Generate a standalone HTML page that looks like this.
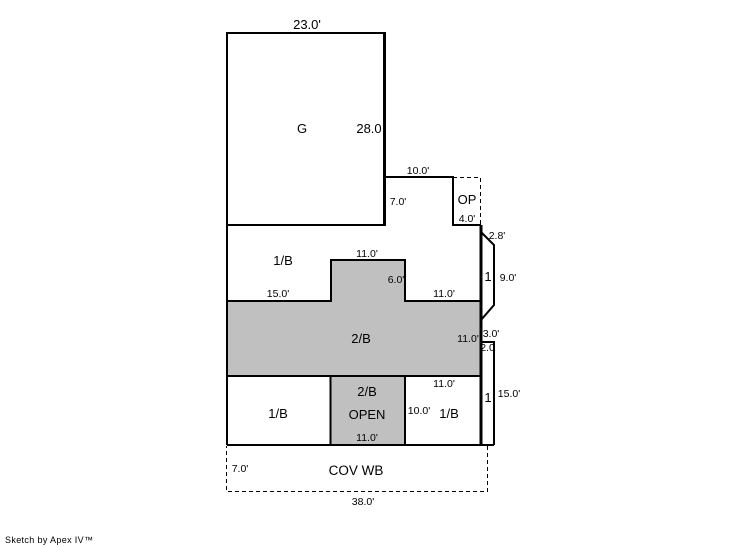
<!DOCTYPE html>
<html><head><meta charset="utf-8"><style>
html,body{margin:0;padding:0;background:#fff}
svg{display:block}
text{font-family:"Liberation Sans",sans-serif;fill:#000}
.b{font-size:13px}
.s{font-size:10.5px}
</style></head><body>
<svg width="746" height="547" viewBox="0 0 746 547" xmlns="http://www.w3.org/2000/svg">
<path d="M228 301H330V260H405V301H480V376H228Z" fill="#c0c0c0"/>
<rect x="330" y="376" width="75" height="69" fill="#c0c0c0"/>
<g fill="none" stroke="#000" stroke-width="1" stroke-dasharray="4 3">
<path d="M453 177.500H480.500V225"/>
<path d="M487.500 446V491.500H226.500V446"/>
</g>
<g fill="none" stroke="#000" stroke-width="2">
<path d="M227 445V33H385"/>
<path d="M227 225H385"/>
<path d="M385 177H453V225H481"/>
<path d="M227 301H331V260H405V301H481"/>
<path d="M227 376H481"/>
<path d="M227 445H494"/>
<path d="M330.500 376V445M405 376V445"/>
<path d="M481 232L494 245V305L481 320"/>
<path d="M481 342H494V445"/>
</g>
<path d="M384.500 32V226" fill="none" stroke="#000" stroke-width="3"/>
<path d="M481 225V446" fill="none" stroke="#000" stroke-width="3"/>
<g text-anchor="middle">
<text class="b" x="307" y="29">23.0'</text>
<text class="b" x="302" y="133">G</text>
<text class="b" x="369" y="133">28.0</text>
<text class="s" x="418" y="174">10.0'</text>
<text class="s" x="398" y="205">7.0'</text>
<text class="b" x="467" y="204">OP</text>
<text class="s" x="467" y="222">4.0'</text>
<text class="s" x="497" y="239">2.8'</text>
<text class="b" x="283" y="265">1/B</text>
<text class="s" x="367" y="257">11.0'</text>
<text class="s" x="396" y="283">6.0'</text>
<text class="s" x="278" y="297">15.0'</text>
<text class="s" x="444" y="297">11.0'</text>
<text class="b" x="488" y="281">1</text>
<text class="s" x="508" y="281">9.0'</text>
<text class="b" x="361" y="343">2/B</text>
<text class="s" x="468" y="342">11.0'</text>
<text class="s" x="491" y="337">3.0'</text>
<text class="s" x="487.500" y="351">2.0</text>
<text class="s" x="444" y="387">11.0'</text>
<text class="b" x="367" y="396">2/B</text>
<text class="b" x="367" y="419">OPEN</text>
<text class="b" x="278" y="418">1/B</text>
<text class="s" x="419" y="414">10.0'</text>
<text class="b" x="449" y="418">1/B</text>
<text class="b" x="488" y="402">1</text>
<text class="s" x="509" y="397">15.0'</text>
<text class="s" x="367" y="441">11.0'</text>
<text class="s" x="240" y="472">7.0'</text>
<text class="b" x="356" y="475" style="font-size:13.500px">COV WB</text>
<text class="s" x="363" y="505">38.0'</text>
</g>
<text x="5" y="543" style="font-size:9px;letter-spacing:.35px">Sketch by Apex IV™</text>
</svg>
</body></html>
